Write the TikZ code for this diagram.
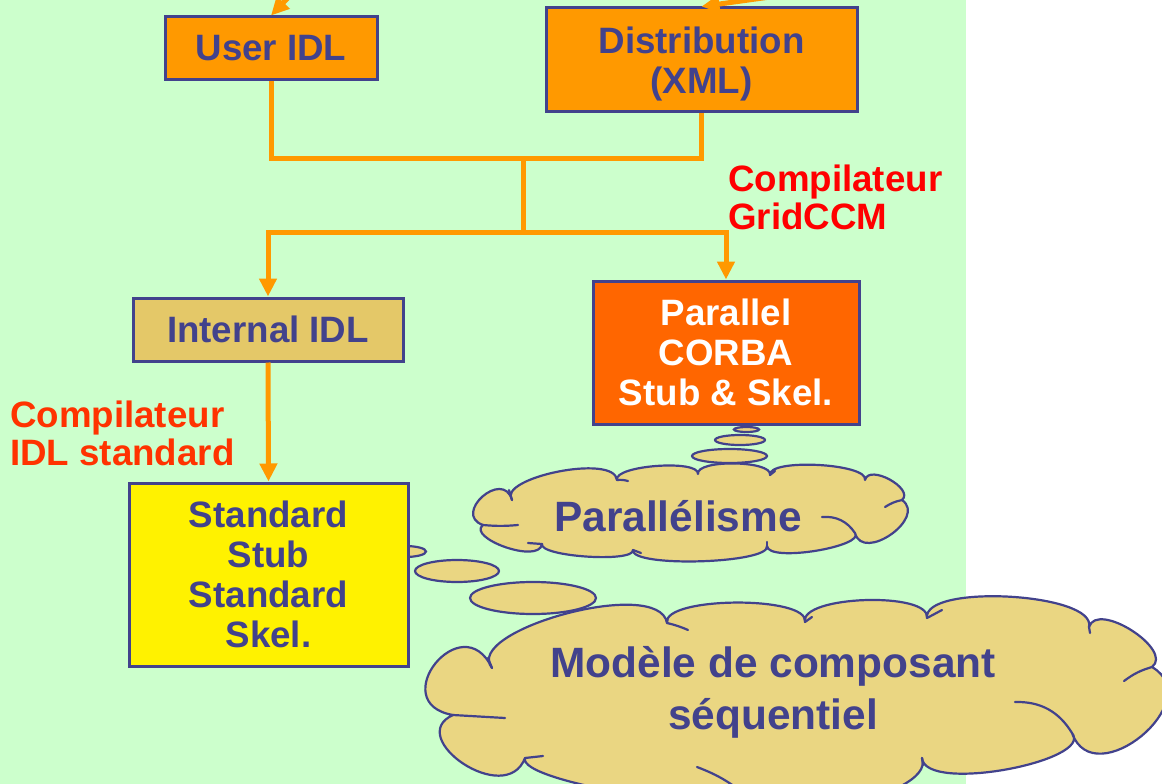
\documentclass[tikz,border=0pt]{standalone}
\usepackage{fontspec}
\setmainfont{Liberation Sans}
\usetikzlibrary{arrows.meta,shapes.geometric,calc}

\definecolor{bggreen}{RGB}{204,255,204}
\definecolor{boxorange}{RGB}{255,153,0}
\definecolor{boxdark}{RGB}{255,102,0}
\definecolor{boxtan}{RGB}{228,200,104}
\definecolor{cloudtan}{RGB}{234,214,130}
\definecolor{ink}{RGB}{66,66,140}
\definecolor{lblred}{RGB}{255,0,0}
\definecolor{lblorange}{RGB}{255,51,0}

\tikzset{
  txt/.style={font=\bfseries\fontsize{36.7}{40}\selectfont, align=center},
  box/.style={txt, draw=ink, line width=3pt, text=ink, inner sep=0pt},
  conn/.style={draw=boxorange, line width=5pt},
  arr/.style={conn, -{Triangle[length=18pt,width=17pt]}},
  bubble/.style={ellipse, draw=ink, line width=2.2pt, fill=cloudtan, inner sep=0pt},
  puffy/.style={draw=ink, line width=2.2pt, fill=cloudtan, line join=round},
  wisp/.style={draw=ink, line width=2.2pt, line cap=round},
  cloudtxt/.style={font=\bfseries\fontsize{42.4}{52}\selectfont, align=center, text=ink, inner sep=0pt},
  lbl/.style={font=\bfseries\fontsize{36.7}{38}\selectfont, align=left, anchor=west, inner sep=0pt},
}

\begin{document}
\begin{tikzpicture}[x=1pt,y=-1pt]
\useasboundingbox (0,0) rectangle (1162,784);
\clip (0,0) rectangle (1162,784);
\fill[white] (0,0) rectangle (1162,784);
\fill[bggreen] (0,0) rectangle (966,784);

% ---- small cloud: valleys between the puffs
\coordinate (v1) at (512,500);
\coordinate (v2) at (617,480);
\coordinate (v3) at (698,474);
\coordinate (v4) at (770,475);
\coordinate (v5) at (865,480);
\coordinate (v6) at (902,500);
\coordinate (v7) at (855,533);
\coordinate (v8) at (767,546);
\coordinate (v9) at (633,550);
\coordinate (v10) at (542,544);
\coordinate (v11) at (483,525);
\path[puffy] (v1)
  \foreach \a/\b/\d/\p/\q in {v1/v2/27pt/115/95, v2/v3/15pt/100/100, v3/v4/15pt/100/100,
      v4/v5/17pt/100/100, v5/v6/17pt/105/110, v6/v7/31pt/110/110, v7/v8/17pt/120/95,
      v8/v9/18pt/100/100, v9/v10/13pt/100/100, v10/v11/21pt/100/125, v11/v1/33pt/120/115}
  { .. controls ($(\a)!\d!\p:(\b)$) and ($(\b)!\d!-\q:(\a)$) .. (\b) } -- cycle;
\draw[wisp] (509,490) -- (v1);
\draw[wisp] (v2) to[bend left=10] (628,481);
\draw[wisp] (v4) -- (775,471);
\draw[wisp] (885,507) to[bend left=10] (v6);
\draw[wisp] (822,517) to[bend left=30] (v7);
\draw[wisp] (767,542) -- (v8);
\draw[wisp] (v9) -- (641,553);
\draw[wisp] (528,543) -- (v10);
\draw[wisp] (v11) to[bend right=5] (518,525);
\node[cloudtxt] (tpar) at (678,516) {Parallélisme};

% ---- large cloud: valleys between the puffs
\coordinate (w1) at (492,668);
\coordinate (w2) at (667,623);
\coordinate (w3) at (805,622);
\coordinate (w4) at (927,618);
\coordinate (w5) at (1089,627);
\coordinate (w6) at (1152,667);
\coordinate (w7) at (1072,733);
\coordinate (w8) at (922,758);
\coordinate (w9) at (742,792);
\coordinate (w10) at (525,758);
\coordinate (w11) at (453,715);
\path[puffy] (w1)
  \foreach \a/\b/\d/\p/\q in {w1/w2/48pt/115/95, w2/w3/27pt/100/100, w3/w4/27pt/100/100,
      w4/w5/35pt/100/100, w5/w6/28pt/105/110, w6/w7/66pt/110/110, w7/w8/36pt/120/95,
      w8/w9/43pt/100/100, w9/w10/26pt/100/100, w10/w11/54pt/100/125, w11/w1/70pt/120/115}
  { .. controls ($(\a)!\d!\p:(\b)$) and ($(\b)!\d!-\q:(\a)$) .. (\b) } -- cycle;
\draw[wisp] (488,658) -- (w1);
\draw[wisp] (w2) to[bend left=5] (688,630);
\draw[wisp] (w3) -- (812,617);
\draw[wisp] (w4) -- (942,610);
\draw[wisp] (w5) -- (1090,633);
\draw[wisp] (1124,681) to[bend left=10] (w6);
\draw[wisp] (1015,702) to[bend left=30] (w7);
\draw[wisp] (w8) -- (923,765);
\draw[wisp] (697,767) to[bend left=8] (w9);
\draw[wisp] (w10) -- (543,756);
\draw[wisp] (w11) -- (505,718);
\node[cloudtxt] (tmod) at (773,692) {Modèle de composant\\séquentiel};

% ---- thought bubbles
\node[bubble, minimum width=25pt, minimum height=5pt] (p1) at (746.5,429.5) {};
\node[bubble, minimum width=50pt, minimum height=10pt] (p2) at (740,440) {};
\node[bubble, minimum width=75pt, minimum height=14pt] (p3) at (729.5,456) {};
\node[bubble, minimum width=42pt, minimum height=11pt] (s1) at (405,551.5) {};
\node[bubble, minimum width=84pt, minimum height=22pt] (s2) at (457,571) {};
\node[bubble, minimum width=126pt, minimum height=32pt] (s3) at (533,598) {};

% ---- boxes
\node[box, fill=boxorange, minimum width=212pt, minimum height=63pt] (user) at (271,48.5) {User IDL};
\node[box, fill=boxorange, minimum width=311pt, minimum height=103pt] (dist) at (701.5,59.5) {\rule{0pt}{35pt}Distribution\\(XML)};
\node[box, fill=boxtan, minimum width=270pt, minimum height=63pt] (internal) at (268,329.5) {Internal IDL};
\node[box, fill=boxdark, text=white, minimum width=266pt, minimum height=143pt] (parallel) at (726,352.5) {Parallel\\CORBA\\Stub \& Skel.};
\node[box, fill=yellow, minimum width=279pt, minimum height=183pt] (standard) at (268.5,574.5) {Standard\\Stub\\Standard\\Skel.};

% ---- compiler labels
\node[lbl, text=lblred] (lgrid) at (728,197) {Compilateur\\GridCCM};
\node[lbl, text=lblorange] (lidl) at (10,433) {Compilateur\\IDL standard};

% ---- inputs arriving from above
\coordinate (inuser) at (302,-17);
\coordinate (indist) at (835,-12);
\draw[arr] (inuser) -- (user.north);
\draw[arr] (indist) -- (dist.north);

% ---- merge and split
\coordinate (join) at (523,158);
\coordinate (split) at (523,232);
\draw[conn] (user.south) |- (join) -| (dist.south);
\draw[conn] (join) -- (split);
\draw[arr] (split) -| (internal.north);
\draw[arr] (split) -| (parallel.north);
\draw[arr] (internal.south) -- (standard.north);
\end{tikzpicture}
\end{document}
